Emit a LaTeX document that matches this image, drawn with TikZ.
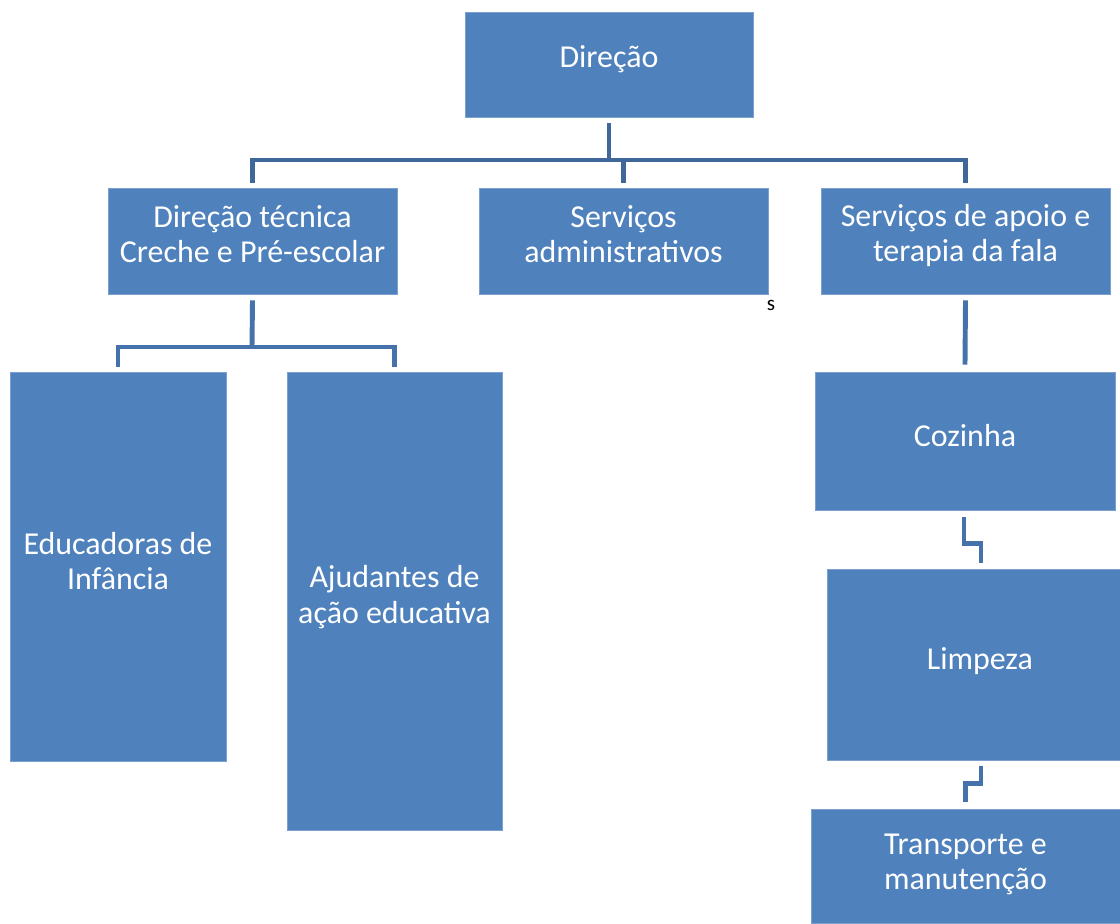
\documentclass[tikz,border=0pt]{standalone}
\usepackage{fontspec}
\setmainfont{Carlito}
\usepackage{tikz}
\usetikzlibrary{calc}

\definecolor{boxblue}{HTML}{4F81BD}
\definecolor{linedark}{HTML}{40679A}
\definecolor{linemid}{HTML}{4672AB}

\tikzset{
	orgbox/.style={fill=boxblue, draw=boxblue!75!white, line width=0.4pt, inner sep=0pt},
	boxtext/.style={text=white, align=center, inner sep=0pt, yshift=3.8pt,
		font=\fontsize{22.7}{25}\selectfont},
	conn/.style={draw=linedark, line width=3.5pt},
	connb/.style={draw=linemid, line width=3.5pt}
}

\begin{document}
\begin{tikzpicture}[x=0.025cm, y=-0.025cm]
		\useasboundingbox (0, 0) rectangle (1120, 923);

		% top level
		\node[orgbox, minimum width=7.2cm, minimum height=2.625cm,
			label={[boxtext, name=dirtxt]center:Direção}] (dir) at (609, 64.5) {};

		% second level
		\node[orgbox, minimum width=7.225cm, minimum height=2.65cm,
			label={[boxtext, name=dttxt, yshift=1pt]center:{Direção técnica\\Creche e Pré-escolar}}] (dt) at (252.5, 241) {};
		\node[orgbox, minimum width=7.225cm, minimum height=2.65cm,
			label={[boxtext, name=satxt, yshift=1pt]center:{Serviços\\administrativos}}] (sa) at (623.5, 241) {};
		\node[orgbox, minimum width=7.225cm, minimum height=2.65cm,
			label={[boxtext, name=saptxt]center:{Serviços de apoio e\\terapia da fala}}] (sap) at (965.5, 241) {};
		\node[font=\fontsize{15}{18}\selectfont] (s) at (771, 305) {s};

		% third level
		\node[orgbox, minimum width=5.4cm, minimum height=9.725cm,
			label={[boxtext, name=eductxt]center:{Educadoras de\\Infância}}] (educ) at (118, 566.5) {};
		\node[orgbox, minimum width=5.375cm, minimum height=11.45cm,
			label={[boxtext, name=ajudtxt, yshift=-1pt]center:{Ajudantes de\\ação educativa}}] (ajud) at (394.5, 601) {};
		\node[orgbox, minimum width=7.5cm, minimum height=3.45cm,
			label={[boxtext, name=coztxt]center:Cozinha}] (coz) at (965, 441) {};
		\node[orgbox, minimum width=7.325cm, minimum height=4.775cm,
			label={[boxtext, name=limptxt, xshift=4.5pt, yshift=-1.5pt]center:Limpeza}] (limp) at (973.5, 664.5) {};
		\node[orgbox, minimum width=7.725cm, minimum height=2.85cm,
			label={[boxtext, name=transptxt, yshift=-2.5pt]center:{Transporte e\\manutenção}}] (transp) at (965.5, 866) {};

		% connectors
		\coordinate (bus) at (609, 160);
		\coordinate (bustwo) at (252, 347);
		\draw[conn] ($(dir.south)+(0, 6)$) -- (bus);
		\draw[conn] ($(dt.north)+(0, -5)$) |- (bus) -| ($(sap.north)+(0, -5)$);
		\draw[conn] ($(sa.north)+(0, -5)$) -- (sa.north|-bus);

		\draw[connb] ($(dt.south)+(0, 6)$) -- (bustwo);
		\draw[connb] ($(educ.north)+(0, -5)$) |- (bustwo) -| ($(ajud.north)+(0, -5)$);
		\draw[connb] ($(sap.south)+(0, 6)$) -- ($(coz.north)+(0, -7)$);
		\draw[connb] ($(coz.south)+(-1, 7)$) -- ++(0, 26) -| ($(limp.north)+(7.5, -6)$);
		\draw[connb] ($(limp.south)+(7.5, 6)$) -- ++(0, 17) -| ($(transp.north)+(0, -7)$);
	\end{tikzpicture}
\end{document}
